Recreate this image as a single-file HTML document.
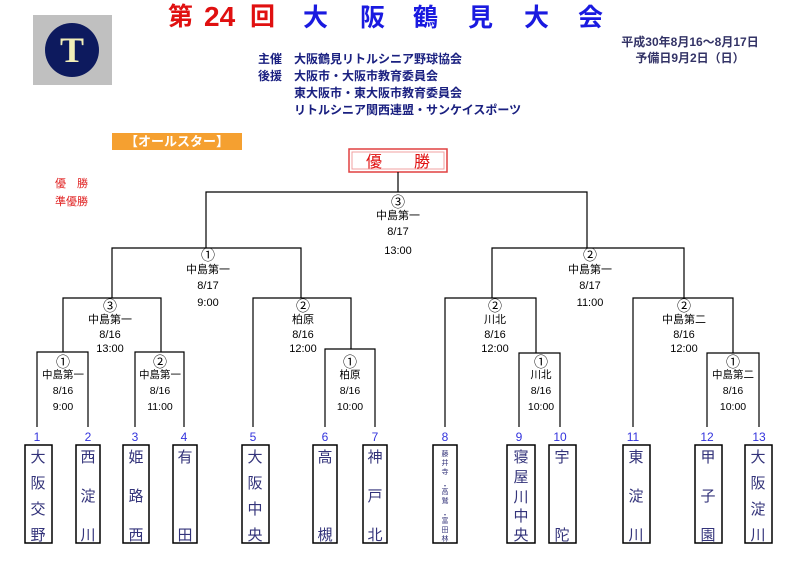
<!DOCTYPE html>
<html><head><meta charset="utf-8"><style>
html,body{margin:0;padding:0;background:#fff;}
body{width:800px;height:560px;overflow:hidden;position:relative;font-family:"Liberation Sans","Noto Sans CJK JP",sans-serif;}
svg text{font-family:"Liberation Sans","Noto Sans CJK JP",sans-serif;}
.c{font-size:14px;}
</style></head><body>
<svg width="800" height="560" viewBox="0 0 800 560" xmlns="http://www.w3.org/2000/svg">
<rect x="33" y="15" width="79" height="70" fill="#c0c0c0"/>
<circle cx="72" cy="50" r="27" fill="#0d1a5e"/>
<text x="72" y="62" text-anchor="middle" font-size="36" font-weight="bold" fill="#f2efb8" style="font-family:'Liberation Serif',serif">T</text>
<g font-weight="bold" font-size="25">
<text x="168" y="25" fill="#e01010">第</text>
<text x="204" y="26" fill="#e01010" font-size="28">24</text>
<text x="250" y="25" fill="#e01010">回</text>
<text x="303" y="26" fill="#1a1ae0">大</text>
<text x="360" y="26" fill="#1a1ae0">阪</text>
<text x="413" y="26" fill="#1a1ae0">鶴</text>
<text x="468" y="26" fill="#1a1ae0">見</text>
<text x="524" y="26" fill="#1a1ae0">大</text>
<text x="578" y="26" fill="#1a1ae0">会</text>
</g>
<g font-size="12" font-weight="bold" fill="#1a2080">
<text x="258" y="63">主催</text><text x="294" y="63">大阪鶴見リトルシニア野球協会</text>
<text x="258" y="80">後援</text><text x="294" y="80">大阪市・大阪市教育委員会</text>
<text x="294" y="97">東大阪市・東大阪市教育委員会</text>
<text x="294" y="114">リトルシニア関西連盟・サンケイスポーツ</text>
</g>
<g font-size="12" font-weight="bold" fill="#333366" text-anchor="middle">
<text x="690" y="46">平成30年8月16～8月17日</text>
<text x="690" y="62">予備日9月2日（日）</text>
</g>
<rect x="112" y="133" width="130" height="17" fill="#f5a030"/>
<text x="177" y="146" text-anchor="middle" font-size="13" font-weight="bold" fill="#fff">【オールスター】</text>
<text x="55" y="187" font-size="11" fill="#e02020">優　勝</text>
<text x="55" y="205" font-size="11" fill="#e02020">準優勝</text>
<rect x="349" y="149" width="98" height="23" fill="#fff" stroke="#e04040" stroke-width="1.5"/>
<rect x="352" y="152" width="92" height="17" fill="none" stroke="#f0a0a0" stroke-width="1"/>
<text x="398" y="167" text-anchor="middle" font-size="16" fill="#e01010" xml:space="preserve">優　　勝</text>
<g fill="none" stroke="#000" stroke-width="1.2">
<path d="M398 172V192M206 248V192H587V248"/>
<path d="M112 298V248H301V298"/>
<path d="M492 298V248H684V298"/>
<path d="M63 352V298H161V352"/>
<path d="M253 427V298H351V349"/>
<path d="M445 427V298H536V353"/>
<path d="M633 427V298H733V353"/>
<path d="M37 427V352H88V427"/>
<path d="M135 427V352H184V427"/>
<path d="M325 427V349H375V427"/>
<path d="M519 427V353H560V427"/>
<path d="M707 427V353H759V427"/>
</g>
<g font-size="11" fill="#000" text-anchor="middle">
<text class="c" x="398" y="207">③</text><text x="398" y="219">中島第一</text><text x="398" y="235">8/17</text><text x="398" y="254">13:00</text>
<text class="c" x="208" y="260">①</text><text x="208" y="273">中島第一</text><text x="208" y="289">8/17</text><text x="208" y="306">9:00</text>
<text class="c" x="590" y="260">②</text><text x="590" y="273">中島第一</text><text x="590" y="289">8/17</text><text x="590" y="306">11:00</text>
<text class="c" x="110" y="311">③</text><text x="110" y="323">中島第一</text><text x="110" y="338">8/16</text><text x="110" y="352">13:00</text>
<text class="c" x="303" y="311">②</text><text x="303" y="323">柏原</text><text x="303" y="338">8/16</text><text x="303" y="352">12:00</text>
<text class="c" x="495" y="311">②</text><text x="495" y="323">川北</text><text x="495" y="338">8/16</text><text x="495" y="352">12:00</text>
<text class="c" x="684" y="311">②</text><text x="684" y="323">中島第二</text><text x="684" y="338">8/16</text><text x="684" y="352">12:00</text>
<g font-size="10.5">
<text class="c" x="63" y="367">①</text><text x="63" y="378">中島第一</text><text x="63" y="394">8/16</text><text x="63" y="410">9:00</text>
<text class="c" x="160" y="367">②</text><text x="160" y="378">中島第一</text><text x="160" y="394">8/16</text><text x="160" y="410">11:00</text>
<text class="c" x="350" y="367">①</text><text x="350" y="378">柏原</text><text x="350" y="394">8/16</text><text x="350" y="410">10:00</text>
<text class="c" x="541" y="367">①</text><text x="541" y="378">川北</text><text x="541" y="394">8/16</text><text x="541" y="410">10:00</text>
<text class="c" x="733" y="367">①</text><text x="733" y="378">中島第二</text><text x="733" y="394">8/16</text><text x="733" y="410">10:00</text>
</g>
</g>
<g font-size="12" fill="#3333dd" text-anchor="middle">
<text x="37" y="441">1</text><text x="88" y="441">2</text><text x="135" y="441">3</text><text x="184" y="441">4</text>
<text x="253" y="441">5</text><text x="325" y="441">6</text><text x="375" y="441">7</text><text x="445" y="441">8</text>
<text x="519" y="441">9</text><text x="560" y="441">10</text><text x="633" y="441">11</text><text x="707" y="441">12</text><text x="759" y="441">13</text>
</g>
<g fill="#fff" stroke="#000" stroke-width="1.5">
<rect x="25" y="445" width="27" height="98"/><rect x="76" y="445" width="24" height="98"/>
<rect x="123" y="445" width="26" height="98"/><rect x="173" y="445" width="24" height="98"/>
<rect x="242" y="445" width="27" height="98"/><rect x="313" y="445" width="24" height="98"/>
<rect x="363" y="445" width="24" height="98"/><rect x="433" y="445" width="24" height="98"/>
<rect x="507" y="445" width="28" height="98"/><rect x="549" y="445" width="27" height="98"/>
<rect x="623" y="445" width="27" height="98"/><rect x="695" y="445" width="27" height="98"/>
<rect x="745" y="445" width="27" height="98"/>
</g>
<g font-size="15" fill="#33337a" text-anchor="middle">
<text x="38" y="462">大</text><text x="38" y="488">阪</text><text x="38" y="514">交</text><text x="38" y="540">野</text>
<text x="88" y="462">西</text><text x="88" y="501">淀</text><text x="88" y="540">川</text>
<text x="136" y="462">姫</text><text x="136" y="501">路</text><text x="136" y="540">西</text>
<text x="185" y="462">有</text><text x="185" y="540">田</text>
<text x="255" y="462">大</text><text x="255" y="488">阪</text><text x="255" y="514">中</text><text x="255" y="540">央</text>
<text x="325" y="462">高</text><text x="325" y="540">槻</text>
<text x="375" y="462">神</text><text x="375" y="501">戸</text><text x="375" y="540">北</text>
<text x="521" y="462">寝</text><text x="521" y="482">屋</text><text x="521" y="502">川</text><text x="521" y="521">中</text><text x="521" y="540">央</text>
<text x="562" y="462">宇</text><text x="562" y="540">陀</text>
<text x="636" y="462">東</text><text x="636" y="501">淀</text><text x="636" y="540">川</text>
<text x="708" y="462">甲</text><text x="708" y="501">子</text><text x="708" y="540">園</text>
<text x="758" y="462">大</text><text x="758" y="488">阪</text><text x="758" y="514">淀</text><text x="758" y="540">川</text>
</g>
<g font-size="7" fill="#33337a" text-anchor="middle">
<text x="445" y="456">藤</text><text x="445" y="465">井</text><text x="445" y="474">寺</text><text x="445" y="488">・</text>
<text x="445" y="494">高</text><text x="445" y="503">鷲</text><text x="445" y="517">・</text>
<text x="445" y="523">富</text><text x="445" y="532">田</text><text x="445" y="541">林</text>
</g>
</svg>
</body></html>
